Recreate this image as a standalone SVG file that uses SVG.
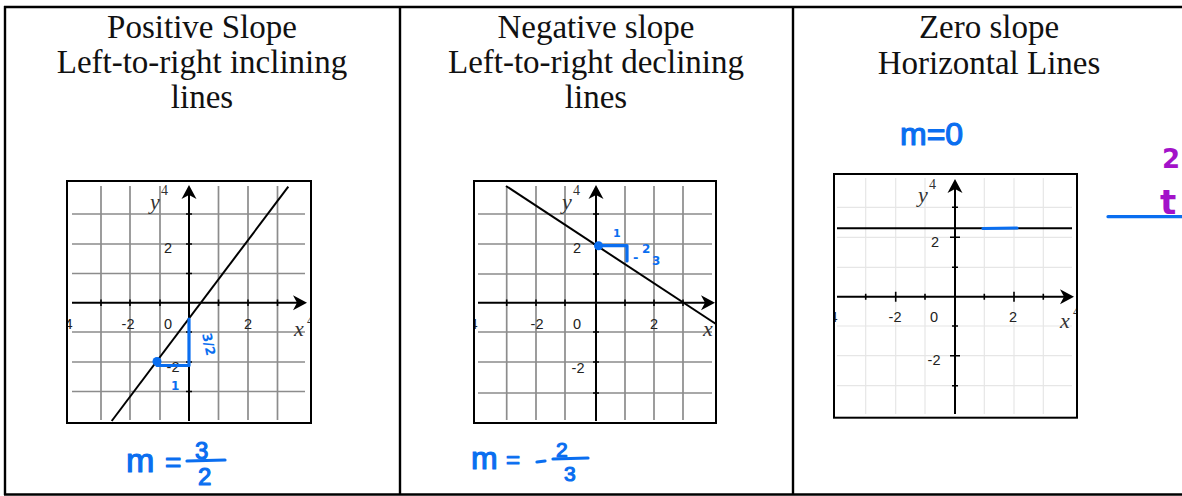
<svg xmlns="http://www.w3.org/2000/svg" width="1182" height="496" viewBox="0 0 1182 496">
<style>
.hdr{font-family:"Liberation Serif","Times New Roman",serif;font-size:33px;fill:#111;text-anchor:middle}
.frame{fill:#fff;stroke:#000;stroke-width:2}
.grid{stroke:#8c8c8c;stroke-width:1.7;fill:none}
.gridlt{stroke:#e6e6e6;stroke-width:1.2;fill:none}
.axis{stroke:#000;stroke-width:2;fill:none}
.tick{stroke:#000;stroke-width:1.6}
.fn{stroke:#000;stroke-width:2;fill:none}
.num{font-family:"Liberation Sans",Arial,sans-serif;font-size:14.5px;fill:#222;text-anchor:middle}
.var{font-family:"Liberation Serif","Times New Roman",serif;font-style:italic;font-size:22px;fill:#333}
.sup{font-family:"Liberation Serif","Times New Roman",serif;font-size:14px;fill:#333}
.ink{stroke:#0a6ef0;stroke-width:3.2;stroke-linecap:round;stroke-linejoin:round;fill:none}
.inkt{font-family:"DejaVu Sans","Liberation Sans",sans-serif;fill:#0a6ef0;font-weight:bold}
.hand{font-family:"Liberation Sans",Arial,sans-serif;fill:#0a6ef0;stroke:#0a6ef0;stroke-width:1.2;stroke-linejoin:round}
.purp{font-family:"DejaVu Sans","Liberation Sans",sans-serif;fill:#a312c9;font-weight:bold}
.border{stroke:#000;stroke-width:2.4;fill:none}
</style>
<defs>
<marker id="arr" viewBox="0 0 14 16" refX="11" refY="8" markerWidth="14" markerHeight="16" orient="auto" markerUnits="userSpaceOnUse">
<path d="M0,0.5 L14,8 L0,15.5 L4,8 z" fill="#000"/>
</marker>
<clipPath id="c1"><rect x="68" y="182" width="242" height="240"/></clipPath>
<clipPath id="c2"><rect x="475" y="182" width="240" height="240"/></clipPath>
<clipPath id="c3"><rect x="835" y="175" width="241" height="242"/></clipPath>
</defs>
<rect width="1182" height="496" fill="#fff"/>

<g id="table">
<line class="border" x1="4" y1="7" x2="1182" y2="7"/>
<line class="border" x1="5" y1="6" x2="5" y2="495"/>
<line class="border" x1="4" y1="494.5" x2="1182" y2="494.5"/>
<line class="border" x1="400" y1="6" x2="400" y2="495"/>
<line class="border" x1="793" y1="6" x2="793" y2="495"/>
</g>

<g id="col-positive">
<text class="hdr" x="202" y="38">Positive Slope</text>
<text class="hdr" x="202" y="73">Left-to-right inclining</text>
<text class="hdr" x="202" y="108">lines</text>
<g id="graph-positive">
<rect class="frame" x="67" y="181" width="244" height="242"/>
<g clip-path="url(#c1)">
<path class="grid" d="M101,186V420M130,186V420M160,186V420M218.5,186V420M248,186V420M277.5,186V420M72,214H305M72,244H305M72,273.5H305M72,332H305M72,362H305M72,391.5H305"/>
<path class="tick" d="M101,299.5v6.5M130,299.5v6.5M160,299.5v6.5M218.5,299.5v6.5M248,299.5v6.5M277.5,299.5v6.5M186,214h6M186,244h6M186,273.5h6M186,332h6M186,362h6M186,391.5h6"/>
<line class="axis" x1="72" y1="302.7" x2="304" y2="302.7" marker-end="url(#arr)"/>
<line class="axis" x1="189" y1="421" x2="189" y2="188" marker-end="url(#arr)"/>
<text class="num" x="128" y="329">-2</text>
<text class="num" x="168" y="329">0</text>
<text class="num" x="248" y="329">2</text>
<text class="num" x="168" y="253">2</text>
<text class="num" x="173" y="372">-2</text>
<text class="num" x="66" y="329">-4</text>
<text class="var" x="150" y="209">y</text>
<text class="sup" x="161" y="195">4</text>
<text class="var" x="294" y="336">x</text>
<text class="sup" x="307" y="325">4</text>
<line class="fn" x1="111.7" y1="421" x2="288.3" y2="186.7"/>
</g>
<g id="ink-positive">
<path class="ink" d="M157,365.5H189V319"/>
<circle cx="157" cy="361.5" r="4.5" fill="#0a6ef0"/>
<text class="inkt" font-size="13" transform="translate(202,334) rotate(78)">3/2</text>
<text class="inkt" font-size="12" x="171" y="390">1</text>
</g>
</g>
<g id="slope-positive">
<text class="hand" font-size="34" x="126" y="472">m</text>
<text class="hand" font-size="28" x="165" y="472">=</text>
<text class="hand" font-size="24" x="195" y="459">3</text>
<line class="ink" x1="187" y1="461" x2="225" y2="460"/>
<text class="hand" font-size="24" x="198" y="485">2</text>
</g>
</g>

<g id="col-negative">
<text class="hdr" x="596" y="38">Negative slope</text>
<text class="hdr" x="596" y="73">Left-to-right declining</text>
<text class="hdr" x="596" y="108">lines</text>
<g id="graph-negative">
<rect class="frame" x="474" y="181" width="242" height="242"/>
<g clip-path="url(#c2)">
<path class="grid" d="M506.7,186V420M536,186V420M565,186V420M625,186V420M654,186V420M683,186V420M478,214H712M478,244H712M478,274H712M478,332H712M478,362H712M478,393H712"/>
<path class="tick" d="M506.7,299.5v6.5M536,299.5v6.5M565,299.5v6.5M625,299.5v6.5M654,299.5v6.5M683,299.5v6.5M593,214h6M593,244h6M593,274h6M593,332h6M593,362h6M593,393h6"/>
<line class="axis" x1="478" y1="302.7" x2="712" y2="302.7" marker-end="url(#arr)"/>
<line class="axis" x1="596" y1="421" x2="596" y2="188" marker-end="url(#arr)"/>
<text class="num" x="537" y="329">-2</text>
<text class="num" x="577" y="329">0</text>
<text class="num" x="654" y="329">2</text>
<text class="num" x="577" y="253">2</text>
<text class="num" x="578" y="373">-2</text>
<text class="num" x="471" y="329">-4</text>
<text class="var" x="562" y="209">y</text>
<text class="sup" x="573" y="195">4</text>
<text class="var" x="703" y="336">x</text>
<line class="fn" x1="506" y1="186" x2="716" y2="324"/>
</g>
<g id="ink-negative">
<path class="ink" d="M598,245.7H627V261"/>
<circle cx="598.5" cy="245.7" r="4.5" fill="#0a6ef0"/>
<text class="inkt" font-size="11" x="613" y="237">1</text>
<text class="inkt" font-size="13" x="633" y="262">-</text>
<text class="inkt" font-size="12" x="642" y="253">2</text>
<text class="inkt" font-size="12" x="652" y="265">3</text>
</g>
</g>
<g id="slope-negative">
<text class="hand" font-size="32" x="471" y="469">m</text>
<text class="hand" font-size="24" x="506" y="468">=</text>
<line class="ink" x1="537" y1="462" x2="545" y2="461"/>
<text class="hand" font-size="21" x="556" y="457">2</text>
<line class="ink" x1="553" y1="459" x2="588" y2="458"/>
<text class="hand" font-size="21" x="564" y="481">3</text>
</g>
</g>

<g id="col-zero">
<text class="hdr" x="989" y="38">Zero slope</text>
<text class="hdr" x="989" y="74">Horizontal Lines</text>
<text class="hand" font-size="32" x="900" y="145">m=0</text>
<g id="graph-zero">
<rect class="frame" x="834" y="174" width="243" height="243.7"/>
<g clip-path="url(#c3)">
<path class="gridlt" d="M865.7,178V414M895.7,178V414M925,178V414M984.3,178V414M1014,178V414M1043.3,178V414M837,207.3H1072M837,237.3H1072M837,267.3H1072M837,326H1072M837,355.7H1072M837,385.7H1072"/>
<path class="tick" d="M865.7,293.7v6M925,293.7v6M984.3,293.7v6M1043.3,293.7v6M895.7,291.7v10M1014,291.7v10M952,207.3h6M952,267.3h6M952,326h6M952,385.7h6M950,237.3h10M950,355.7h10"/>
<line class="axis" x1="837" y1="296.7" x2="1071" y2="296.7" marker-end="url(#arr)"/>
<line class="axis" x1="955" y1="414" x2="955" y2="182" marker-end="url(#arr)"/>
<text class="num" x="895" y="322">-2</text>
<text class="num" x="934" y="322">0</text>
<text class="num" x="1013" y="322">2</text>
<text class="num" x="935" y="247">2</text>
<text class="num" x="934" y="365">-2</text>
<text class="num" x="831" y="322">-4</text>
<text class="var" x="918" y="202">y</text>
<text class="sup" x="929" y="189">4</text>
<text class="var" x="1060" y="328">x</text>
<text class="sup" x="1073" y="316">4</text>
<line class="fn" x1="837" y1="228.3" x2="1072" y2="228.3"/>
</g>
<line class="ink" x1="983" y1="228.5" x2="1017" y2="228"/>
</g>
<line class="ink" x1="1108" y1="216.7" x2="1182" y2="216.7"/>
<text class="purp" font-size="26" x="1162" y="168">2</text>
<text class="purp" font-size="34" x="1160" y="214">t</text>
</g>
</svg>
